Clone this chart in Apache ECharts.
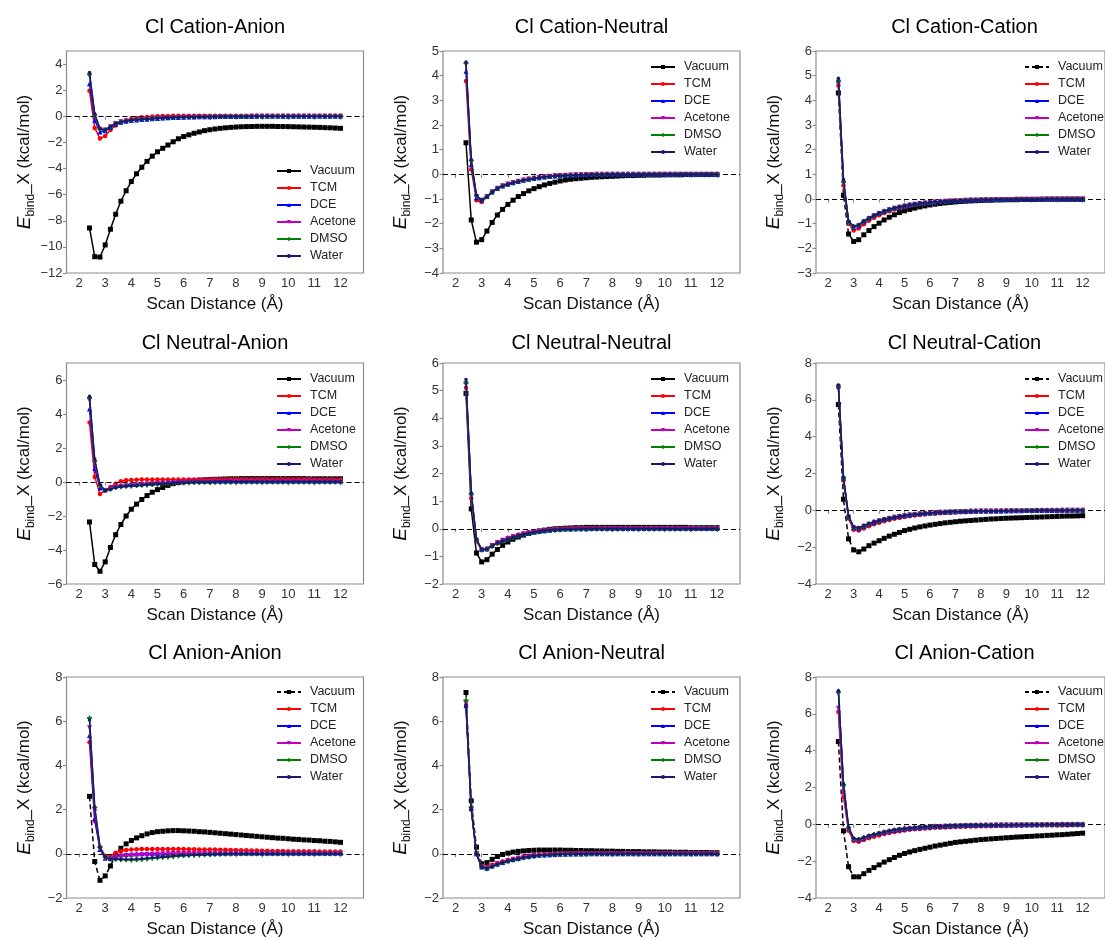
<!DOCTYPE html>
<html><head><meta charset="utf-8">
<script src="https://cdn.jsdelivr.net/npm/echarts@6/dist/echarts.min.js"></script>
<style>html,body{margin:0;padding:0;background:#fff}#c{width:1105px;height:941px}</style>
</head><body><div id="c"></div>
<script>
// ---------- data ----------
const xDist = [2.4,2.6,2.8,3.0,3.2,3.4,3.6,3.8,4.0,4.2,4.4,4.6,4.8,5.0,5.2,5.4,5.6,5.8,6.0,6.2,6.4,6.6,6.8,7.0,7.2,7.4,7.6,7.8,8.0,8.2,8.4,8.6,8.8,9.0,9.2,9.4,9.6,9.8,10.0,10.2,10.4,10.6,10.8,11.0,11.2,11.4,11.6,11.8,12.0];
const xTicks = [2,3,4,5,6,7,8,9,10,11,12];
const seriesNames = ['Vacuum','TCM','DCE','Acetone','DMSO','Water'];

// Cl Cation-Anion
const ca_vac = [-8.55,-10.75,-10.78,-9.85,-8.65,-7.5,-6.5,-5.7,-5.0, -4.4,-3.9,-3.45,-3.05,-2.72,-2.45,-2.2,-1.95,-1.72,-1.55, -1.42,-1.3,-1.2,-1.1,-1.03,-0.97,-0.92,-0.88,-0.85,-0.82, -0.8,-0.79,-0.78,-0.77,-0.77,-0.77,-0.77,-0.78,-0.78,-0.79, -0.8,-0.81,-0.82,-0.83,-0.84,-0.85,-0.87,-0.88,-0.9,-0.92];
const ca_tcm = [1.95,-0.9,-1.7,-1.5,-1.05,-0.7,-0.45,-0.3,-0.2, -0.13,-0.08,-0.05,-0.02,0,0.02,0.03,0.04,0.04,0.05, 0.05,0.05,0.05,0.05,0.05,0.05,0.05,0.05,0.05,0.05, 0.05,0.05,0.05,0.05,0.05,0.05,0.05,0.05,0.05,0.05, 0.05,0.05,0.05,0.05,0.05,0.05,0.05,0.05,0.04,0.04];
const ca_dce = [2.5,-0.3,-1.2,-1.1,-0.85,-0.6,-0.45,-0.38,-0.33, -0.29,-0.25,-0.22,-0.19,-0.16,-0.14,-0.12,-0.1,-0.09,-0.07, -0.06,-0.05,-0.04,-0.04,-0.03,-0.03,-0.02,-0.02,-0.02,-0.01, -0.01,-0.01,-0.01,0,0,0,0,0,0,0, 0,0,0,0,0,0,0,0,0,0];
const ca_ace = [3.1,0.0,-1.0,-1.05,-0.8,-0.55,-0.42,-0.36,-0.31, -0.27,-0.23,-0.2,-0.17,-0.15,-0.13,-0.11,-0.09,-0.08,-0.07, -0.06,-0.05,-0.04,-0.03,-0.03,-0.02,-0.02,-0.02,-0.01,-0.01, -0.01,-0.01,0,0,0,0,0,0,0,0, 0,0,0,0,0,0,0,0,0,0];
const ca_dmso = [3.2,0.1,-0.98,-1.05,-0.8,-0.55,-0.42,-0.35,-0.3, -0.26,-0.22,-0.19,-0.17,-0.15,-0.13,-0.11,-0.09,-0.08,-0.07, -0.06,-0.05,-0.04,-0.03,-0.03,-0.02,-0.02,-0.02,-0.01,-0.01, -0.01,-0.01,0,0,0,0,0,0,0,0, 0,0,0,0,0,0,0,0,0,0];
const ca_wat = [3.35,0.2,-0.95,-1.05,-0.8,-0.56,-0.43,-0.36,-0.31, -0.27,-0.23,-0.2,-0.17,-0.15,-0.13,-0.11,-0.09,-0.08,-0.07, -0.06,-0.05,-0.04,-0.03,-0.03,-0.02,-0.02,-0.02,-0.01,-0.01, -0.01,-0.01,0,0,0,0,0,0,0,0, 0,0,0,0,0,0,0,0,0,0];

// Cl Cation-Neutral
const cn_vac = [1.28,-1.85,-2.75,-2.65,-2.3,-1.95,-1.65,-1.42,-1.22, -1.05,-0.9,-0.78,-0.67,-0.58,-0.5,-0.43,-0.37,-0.32,-0.27, -0.23,-0.2,-0.18,-0.16,-0.14,-0.12,-0.11,-0.1,-0.09,-0.08, -0.07,-0.06,-0.05,-0.05,-0.04,-0.04,-0.03,-0.03,-0.03,-0.02, -0.02,-0.02,-0.02,-0.01,-0.01,-0.01,-0.01,-0.01,-0.01,-0.01];
const cn_tcm = [3.78,0.2,-1.05,-1.12,-0.92,-0.72,-0.58,-0.47,-0.4, -0.33,-0.28,-0.23,-0.19,-0.16,-0.13,-0.1,-0.08,-0.06,-0.05, -0.04,-0.03,-0.02,-0.01,-0.01,0,0,0,0,0, 0,0,0,0,0,0,0,0,0,0, 0,0,0,0,0,0,0,0,0,0];
const cn_dce = [4.18,0.4,-0.95,-1.05,-0.9,-0.72,-0.57,-0.47,-0.4, -0.34,-0.29,-0.24,-0.2,-0.17,-0.14,-0.11,-0.09,-0.07,-0.06, -0.05,-0.04,-0.03,-0.02,-0.02,-0.01,-0.01,-0.01,0,0, 0,0,0,0,0,0,0,0,0,0, 0,0,0,0,0,0,0,0,0,0];
const cn_ace = [4.45,0.5,-0.9,-1.05,-0.9,-0.71,-0.56,-0.46,-0.39, -0.33,-0.28,-0.23,-0.19,-0.16,-0.13,-0.1,-0.08,-0.06,-0.05, -0.04,-0.03,-0.02,-0.02,-0.01,-0.01,0,0,0,0, 0,0,0,0,0,0,0,0,0,0, 0,0,0,0,0,0,0,0,0,0];
const cn_dmso = [4.5,0.55,-0.88,-1.05,-0.9,-0.72,-0.57,-0.47,-0.4, -0.34,-0.29,-0.24,-0.2,-0.17,-0.14,-0.11,-0.09,-0.07,-0.06, -0.05,-0.04,-0.03,-0.02,-0.02,-0.01,-0.01,-0.01,0,0, 0,0,0,0,0,0,0,0,0,0, 0,0,0,0,0,0,0,0,0,0];
const cn_wat = [4.55,0.6,-0.85,-1.05,-0.9,-0.72,-0.57,-0.47,-0.4, -0.34,-0.29,-0.24,-0.2,-0.17,-0.14,-0.11,-0.09,-0.07,-0.06, -0.05,-0.04,-0.03,-0.02,-0.02,-0.01,-0.01,-0.01,0,0, 0,0,0,0,0,0,0,0,0,0, 0,0,0,0,0,0,0,0,0,0];

// Cl Cation-Cation
const cc_vac = [4.3,0.15,-1.42,-1.72,-1.65,-1.45,-1.28,-1.12,-0.98, -0.85,-0.74,-0.64,-0.55,-0.48,-0.42,-0.37,-0.32,-0.28,-0.24, -0.21,-0.18,-0.16,-0.14,-0.12,-0.1,-0.09,-0.08,-0.07,-0.06, -0.05,-0.05,-0.04,-0.04,-0.03,-0.03,-0.03,-0.02,-0.02,-0.02, -0.02,-0.01,-0.01,-0.01,-0.01,-0.01,-0.01,-0.01,-0.01,-0.01];
const cc_tcm = [4.6,0.55,-1.0,-1.28,-1.2,-1.02,-0.88,-0.76,-0.66, -0.57,-0.5,-0.43,-0.37,-0.32,-0.28,-0.24,-0.21,-0.18,-0.16, -0.14,-0.12,-0.1,-0.09,-0.08,-0.07,-0.06,-0.05,-0.05,-0.04, -0.04,-0.03,-0.03,-0.03,-0.02,-0.02,-0.02,-0.02,-0.01,-0.01, -0.01,-0.01,-0.01,-0.01,-0.01,0,0,0,0,0];
const cc_dce = [4.85,0.75,-0.92,-1.15,-1.08,-0.92,-0.79,-0.68,-0.59, -0.51,-0.44,-0.38,-0.33,-0.28,-0.24,-0.21,-0.18,-0.16,-0.14, -0.12,-0.1,-0.09,-0.08,-0.07,-0.06,-0.05,-0.04,-0.04,-0.03, -0.03,-0.03,-0.02,-0.02,-0.02,-0.02,-0.01,-0.01,-0.01,-0.01, -0.01,-0.01,0,0,0,0,0,0,0,0];
const cc_ace = [4.65,0.65,-0.95,-1.15,-1.08,-0.92,-0.79,-0.68,-0.59, -0.51,-0.44,-0.38,-0.33,-0.28,-0.24,-0.21,-0.18,-0.16,-0.14, -0.12,-0.1,-0.09,-0.08,-0.07,-0.06,-0.05,-0.04,-0.04,-0.03, -0.03,-0.03,-0.02,-0.02,-0.02,-0.02,-0.01,-0.01,-0.01,-0.01, -0.01,-0.01,0,0,0,0,0,0,0,0];
const cc_dmso = [4.8,0.7,-0.93,-1.12,-1.06,-0.9,-0.78,-0.67,-0.58, -0.5,-0.43,-0.37,-0.32,-0.28,-0.24,-0.21,-0.18,-0.16,-0.14, -0.12,-0.1,-0.09,-0.08,-0.07,-0.06,-0.05,-0.04,-0.04,-0.03, -0.03,-0.03,-0.02,-0.02,-0.02,-0.02,-0.01,-0.01,-0.01,-0.01, -0.01,-0.01,0,0,0,0,0,0,0,0];
const cc_wat = [4.9,0.8,-0.9,-1.1,-1.05,-0.9,-0.77,-0.66,-0.57, -0.49,-0.42,-0.36,-0.31,-0.27,-0.23,-0.2,-0.17,-0.15,-0.13, -0.11,-0.1,-0.09,-0.08,-0.07,-0.06,-0.05,-0.04,-0.04,-0.03, -0.03,-0.03,-0.02,-0.02,-0.02,-0.02,-0.01,-0.01,-0.01,-0.01, -0.01,-0.01,0,0,0,0,0,0,0,0];

// Cl Neutral-Anion
const na_vac = [-2.35,-4.85,-5.25,-4.7,-3.85,-3.1,-2.5,-2.0,-1.6, -1.3,-1.03,-0.8,-0.6,-0.45,-0.32,-0.2,-0.1,-0.03,0.02, 0.06,0.09,0.11,0.13,0.15,0.16,0.17,0.18,0.19,0.19, 0.2,0.2,0.2,0.2,0.2,0.2,0.2,0.2,0.2,0.2, 0.2,0.2,0.2,0.19,0.19,0.19,0.19,0.19,0.19,0.19];
const na_tcm = [3.5,0.3,-0.7,-0.5,-0.3,-0.1,0.05,0.1,0.12, 0.13,0.14,0.15,0.15,0.15,0.15,0.15,0.15,0.15,0.15, 0.15,0.15,0.15,0.15,0.15,0.16,0.16,0.16,0.16,0.16, 0.16,0.16,0.16,0.16,0.16,0.16,0.16,0.16,0.16,0.16, 0.16,0.16,0.16,0.16,0.15,0.15,0.15,0.15,0.15,0.15];
const na_dce = [4.3,0.8,-0.35,-0.45,-0.35,-0.25,-0.2,-0.17,-0.15, -0.13,-0.11,-0.09,-0.07,-0.05,-0.03,-0.02,0,0.01,0.02, 0.03,0.04,0.04,0.05,0.05,0.05,0.05,0.05,0.05,0.05, 0.05,0.05,0.05,0.05,0.05,0.05,0.05,0.05,0.05,0.05, 0.05,0.05,0.05,0.05,0.05,0.05,0.05,0.05,0.05,0.05];
const na_ace = [4.8,1.1,-0.25,-0.5,-0.4,-0.3,-0.25,-0.22,-0.2, -0.18,-0.16,-0.13,-0.11,-0.09,-0.07,-0.05,-0.03,-0.02,-0.01, 0,0.01,0.02,0.02,0.03,0.03,0.03,0.04,0.04,0.04, 0.04,0.04,0.04,0.04,0.04,0.04,0.04,0.04,0.04,0.04, 0.04,0.04,0.04,0.04,0.04,0.04,0.04,0.04,0.04,0.04];
const na_dmso = [4.95,1.25,-0.2,-0.5,-0.42,-0.33,-0.28,-0.25,-0.23, -0.21,-0.19,-0.17,-0.15,-0.13,-0.11,-0.09,-0.07,-0.06,-0.05, -0.04,-0.03,-0.03,-0.02,-0.02,-0.01,-0.01,-0.01,-0.01,0, 0,0,0,0,0,0,0,0,0,0, 0,0,0,0,0,0,0,0,0,0];
const na_wat = [5.05,1.35,-0.15,-0.5,-0.42,-0.33,-0.28,-0.25,-0.23, -0.21,-0.19,-0.16,-0.14,-0.12,-0.1,-0.08,-0.06,-0.05,-0.04, -0.03,-0.02,-0.01,-0.01,0,0,0.01,0.01,0.01,0.01, 0.01,0.01,0.01,0.01,0.01,0.01,0.01,0.01,0.01,0.01, 0.01,0.01,0.01,0.01,0.01,0.01,0.01,0.01,0.01,0.01];

// Cl Neutral-Neutral
const nn_vac = [4.9,0.72,-0.88,-1.2,-1.12,-0.92,-0.75,-0.6,-0.48, -0.38,-0.3,-0.23,-0.17,-0.12,-0.08,-0.05,-0.02,0,0.01, 0.02,0.03,0.04,0.04,0.05,0.05,0.05,0.05,0.05,0.05, 0.05,0.05,0.05,0.05,0.05,0.05,0.05,0.05,0.05,0.05, 0.05,0.05,0.05,0.05,0.04,0.04,0.04,0.04,0.04,0.04];
const nn_tcm = [5.1,1.1,-0.45,-0.78,-0.75,-0.62,-0.5,-0.41,-0.33, -0.27,-0.21,-0.17,-0.13,-0.1,-0.07,-0.05,-0.03,-0.01,0, 0.01,0.01,0.02,0.02,0.02,0.03,0.03,0.03,0.03,0.03, 0.03,0.03,0.03,0.03,0.03,0.03,0.03,0.03,0.03,0.03, 0.03,0.03,0.03,0.03,0.03,0.02,0.02,0.02,0.02,0.02];
const nn_dce = [5.35,1.3,-0.4,-0.75,-0.72,-0.6,-0.5,-0.42,-0.35, -0.29,-0.24,-0.19,-0.15,-0.12,-0.09,-0.07,-0.05,-0.03,-0.02, -0.01,-0.01,0,0,0,0.01,0.01,0.01,0.01,0.01, 0.01,0.01,0.01,0.01,0.01,0.01,0.01,0.01,0.01,0.01, 0.01,0.01,0.01,0.01,0.01,0.01,0.01,0.01,0.01,0.01];
const nn_ace = [5.2,1.2,-0.42,-0.76,-0.73,-0.61,-0.5,-0.42,-0.35, -0.29,-0.24,-0.19,-0.15,-0.12,-0.09,-0.07,-0.05,-0.04,-0.03, -0.02,-0.01,-0.01,0,0,0,0,0,0.01,0.01, 0.01,0.01,0.01,0.01,0.01,0.01,0.01,0.01,0.01,0.01, 0.01,0.01,0.01,0.01,0.01,0.01,0.01,0.01,0.01,0.01];
const nn_dmso = [5.3,1.25,-0.4,-0.75,-0.74,-0.63,-0.53,-0.45,-0.38, -0.32,-0.26,-0.21,-0.17,-0.14,-0.11,-0.08,-0.06,-0.05,-0.04, -0.03,-0.03,-0.02,-0.02,-0.02,-0.01,-0.01,-0.01,-0.01,-0.01, -0.01,-0.01,-0.01,-0.01,-0.01,-0.01,-0.01,-0.01,-0.01,-0.01, -0.01,-0.01,-0.01,-0.01,-0.01,0,0,0,0,0];
const nn_wat = [5.4,1.3,-0.38,-0.74,-0.73,-0.62,-0.52,-0.44,-0.37, -0.31,-0.25,-0.2,-0.16,-0.13,-0.1,-0.07,-0.05,-0.04,-0.03, -0.02,-0.02,-0.01,-0.01,-0.01,0,0,0,0,0, 0,0,0,0,0,0,0,0,0,0, 0,0,0,0,0,0,0,0,0,0];

// Cl Neutral-Cation
const nc_vac = [5.75,0.6,-1.55,-2.15,-2.25,-2.1,-1.92,-1.78,-1.65, -1.52,-1.4,-1.3,-1.2,-1.1,-1.03,-0.96,-0.9,-0.85,-0.8, -0.76,-0.72,-0.68,-0.65,-0.62,-0.59,-0.57,-0.55,-0.53,-0.51, -0.49,-0.47,-0.46,-0.44,-0.43,-0.42,-0.41,-0.4,-0.39,-0.38, -0.37,-0.36,-0.35,-0.34,-0.33,-0.32,-0.31,-0.31,-0.3,-0.29];
const nc_tcm = [6.7,1.6,-0.45,-1.05,-1.1,-0.98,-0.86,-0.76,-0.67, -0.59,-0.52,-0.46,-0.41,-0.36,-0.32,-0.28,-0.25,-0.22,-0.2, -0.18,-0.16,-0.14,-0.13,-0.12,-0.11,-0.1,-0.09,-0.08,-0.07, -0.07,-0.06,-0.06,-0.05,-0.05,-0.05,-0.04,-0.04,-0.04,-0.04, -0.03,-0.03,-0.03,-0.03,-0.03,-0.03,-0.02,-0.02,-0.02,-0.02];
const nc_dce = [6.75,1.75,-0.35,-0.95,-1.0,-0.88,-0.76,-0.66,-0.58, -0.5,-0.44,-0.38,-0.33,-0.29,-0.25,-0.22,-0.19,-0.17,-0.15, -0.13,-0.11,-0.1,-0.09,-0.08,-0.07,-0.06,-0.05,-0.05,-0.04, -0.04,-0.03,-0.03,-0.03,-0.02,-0.02,-0.02,-0.02,-0.01,-0.01, -0.01,-0.01,-0.01,-0.01,-0.01,0,0,0,0,0];
const nc_ace = [6.7,1.7,-0.38,-0.95,-0.98,-0.87,-0.75,-0.65,-0.57, -0.5,-0.44,-0.38,-0.33,-0.29,-0.25,-0.22,-0.19,-0.17,-0.15, -0.13,-0.11,-0.1,-0.09,-0.08,-0.07,-0.06,-0.05,-0.05,-0.04, -0.04,-0.03,-0.03,-0.03,-0.02,-0.02,-0.02,-0.02,-0.01,-0.01, -0.01,-0.01,-0.01,-0.01,-0.01,0,0,0,0,0];
const nc_dmso = [6.75,1.75,-0.35,-0.93,-0.97,-0.85,-0.74,-0.64,-0.56, -0.49,-0.43,-0.37,-0.32,-0.28,-0.24,-0.21,-0.18,-0.16,-0.14, -0.12,-0.1,-0.09,-0.08,-0.07,-0.06,-0.05,-0.04,-0.04,-0.03, -0.03,-0.03,-0.02,-0.02,-0.02,-0.01,-0.01,-0.01,-0.01,-0.01, 0,0,0,0,0,0,0,0,0,0];
const nc_wat = [6.8,1.8,-0.3,-0.9,-0.95,-0.84,-0.73,-0.63,-0.55, -0.49,-0.43,-0.37,-0.32,-0.28,-0.24,-0.21,-0.18,-0.16,-0.14, -0.12,-0.1,-0.09,-0.08,-0.07,-0.06,-0.05,-0.04,-0.04,-0.03, -0.03,-0.03,-0.02,-0.02,-0.02,-0.01,-0.01,-0.01,-0.01,-0.01, 0,0,0,0,0,0,0,0,0,0];

// Cl Anion-Anion
const aa_vac = [2.6,-0.35,-1.2,-1.0,-0.55,-0.05,0.25,0.45,0.6, 0.72,0.82,0.9,0.96,1.0,1.02,1.04,1.05,1.05,1.04, 1.03,1.02,1.0,0.99,0.97,0.95,0.93,0.91,0.89,0.87, 0.85,0.83,0.81,0.79,0.77,0.75,0.73,0.71,0.7,0.68, 0.66,0.65,0.63,0.62,0.6,0.59,0.57,0.56,0.54,0.52];
const aa_tcm = [5.05,1.5,0.3,-0.1,-0.1,0.05,0.12,0.17,0.2, 0.21,0.22,0.22,0.22,0.22,0.22,0.22,0.22,0.22,0.22, 0.21,0.21,0.2,0.2,0.19,0.19,0.18,0.18,0.17,0.17, 0.16,0.16,0.15,0.15,0.14,0.14,0.13,0.13,0.13,0.12, 0.12,0.12,0.11,0.11,0.11,0.1,0.1,0.1,0.1,0.1];
const aa_dce = [5.35,1.6,0.2,-0.2,-0.2,-0.1,-0.05,-0.03,-0.02, -0.01,0,0,0.01,0.01,0.01,0.02,0.02,0.02,0.02, 0.02,0.02,0.02,0.02,0.02,0.02,0.02,0.02,0.02,0.02, 0.02,0.02,0.02,0.02,0.02,0.02,0.02,0.02,0.02,0.02, 0.02,0.02,0.02,0.02,0.02,0.02,0.02,0.02,0.02,0.02];
const aa_ace = [5.7,1.9,0.25,-0.2,-0.22,-0.15,-0.1,-0.08,-0.06, -0.05,-0.04,-0.03,-0.02,-0.01,0,0,0.01,0.01,0.01, 0.01,0.01,0.01,0.01,0.01,0.01,0.01,0.01,0.01,0.01, 0.01,0.01,0.01,0.01,0.01,0.01,0.01,0.01,0.01,0.01, 0.01,0.01,0.01,0.01,0.01,0.01,0.01,0.01,0.01,0.01];
const aa_dmso = [6.15,2.1,0.3,-0.15,-0.25,-0.25,-0.26,-0.27,-0.28, -0.27,-0.25,-0.23,-0.2,-0.18,-0.16,-0.14,-0.12,-0.1,-0.08, -0.07,-0.06,-0.05,-0.04,-0.03,-0.02,-0.02,-0.01,-0.01,0, 0,0,0,0,0,0,0,0,0,0, 0,0,0,0,0,0,0,0,0,0];
const aa_wat = [6.05,2.1,0.3,-0.15,-0.25,-0.25,-0.25,-0.25,-0.25, -0.24,-0.22,-0.2,-0.18,-0.16,-0.14,-0.12,-0.1,-0.08,-0.07, -0.06,-0.05,-0.04,-0.03,-0.02,-0.02,-0.01,-0.01,0,0, 0,0,0,0,0,0,0,0,0,0, 0,0,0,0,0,0,0,0,0,0];

// Cl Anion-Neutral
const an_vac = [7.3,2.4,0.3,-0.45,-0.4,-0.25,-0.12,-0.03,0.03, 0.08,0.11,0.13,0.15,0.16,0.17,0.17,0.17,0.17,0.17, 0.16,0.16,0.15,0.15,0.14,0.14,0.13,0.13,0.12,0.12, 0.11,0.11,0.1,0.1,0.1,0.09,0.09,0.09,0.08,0.08, 0.08,0.07,0.07,0.07,0.06,0.06,0.06,0.06,0.05,0.05];
const an_tcm = [6.7,2.0,0.05,-0.55,-0.6,-0.5,-0.42,-0.35,-0.28, -0.23,-0.18,-0.13,-0.09,-0.06,-0.04,-0.02,-0.01,0,0.01, 0.01,0.01,0.02,0.02,0.02,0.02,0.02,0.02,0.02,0.02, 0.02,0.02,0.02,0.02,0.02,0.02,0.02,0.02,0.02,0.02, 0.02,0.02,0.02,0.02,0.02,0.02,0.02,0.02,0.02,0.02];
const an_dce = [6.7,2.05,0,-0.6,-0.65,-0.55,-0.46,-0.39,-0.32, -0.26,-0.21,-0.16,-0.12,-0.09,-0.07,-0.05,-0.04,-0.03,-0.02, -0.02,-0.01,-0.01,-0.01,0,0,0,0,0,0, 0,0,0,0,0,0,0,0,0,0, 0,0,0,0,0,0,0,0,0,0];
const an_ace = [6.8,2.05,0,-0.58,-0.64,-0.54,-0.45,-0.38,-0.31, -0.25,-0.2,-0.15,-0.11,-0.08,-0.06,-0.04,-0.03,-0.02,-0.01, -0.01,0,0,0,0,0,0,0,0,0, 0,0,0,0,0,0,0,0,0,0, 0,0,0,0,0,0,0,0,0,0];
const an_dmso = [6.95,2.1,0,-0.6,-0.68,-0.58,-0.49,-0.41,-0.34, -0.28,-0.23,-0.18,-0.14,-0.11,-0.08,-0.06,-0.05,-0.04,-0.03, -0.02,-0.02,-0.01,-0.01,-0.01,0,0,0,0,0, 0,0,0,0,0,0,0,0,0,0, 0,0,0,0,0,0,0,0,0,0];
const an_wat = [6.75,2.05,-0.02,-0.6,-0.67,-0.57,-0.48,-0.4,-0.33, -0.27,-0.22,-0.17,-0.13,-0.1,-0.08,-0.06,-0.04,-0.03,-0.02, -0.02,-0.01,-0.01,-0.01,0,0,0,0,0,0, 0,0,0,0,0,0,0,0,0,0, 0,0,0,0,0,0,0,0,0,0];

// Cl Anion-Cation
const ac_vac = [4.5,-0.35,-2.3,-2.85,-2.85,-2.68,-2.5,-2.35,-2.2, -2.05,-1.92,-1.8,-1.68,-1.58,-1.5,-1.43,-1.36,-1.3,-1.24, -1.18,-1.13,-1.08,-1.03,-0.98,-0.95,-0.92,-0.89,-0.86,-0.83, -0.81,-0.79,-0.77,-0.75,-0.73,-0.71,-0.69,-0.68,-0.66,-0.65, -0.63,-0.62,-0.6,-0.59,-0.57,-0.56,-0.54,-0.52,-0.5,-0.48];
const ac_tcm = [6.1,1.5,-0.35,-0.9,-0.95,-0.85,-0.75,-0.67,-0.6, -0.53,-0.47,-0.42,-0.37,-0.33,-0.3,-0.27,-0.25,-0.23,-0.21, -0.19,-0.18,-0.17,-0.16,-0.15,-0.14,-0.13,-0.12,-0.12,-0.11, -0.1,-0.1,-0.09,-0.09,-0.09,-0.08,-0.08,-0.08,-0.07,-0.07, -0.07,-0.07,-0.06,-0.06,-0.06,-0.06,-0.06,-0.05,-0.05,-0.05];
const ac_dce = [7.25,2.2,-0.2,-0.8,-0.85,-0.75,-0.65,-0.57,-0.5, -0.44,-0.38,-0.33,-0.29,-0.26,-0.23,-0.2,-0.18,-0.16,-0.14, -0.12,-0.11,-0.1,-0.09,-0.08,-0.07,-0.06,-0.06,-0.05,-0.05, -0.04,-0.04,-0.03,-0.03,-0.03,-0.03,-0.02,-0.02,-0.02,-0.02, -0.02,-0.01,-0.01,-0.01,-0.01,-0.01,-0.01,-0.01,-0.01,-0.01];
const ac_ace = [6.3,1.7,-0.3,-0.85,-0.88,-0.78,-0.68,-0.6,-0.52, -0.46,-0.4,-0.35,-0.31,-0.27,-0.24,-0.21,-0.19,-0.17,-0.15, -0.13,-0.12,-0.11,-0.1,-0.09,-0.08,-0.07,-0.07,-0.06,-0.06, -0.05,-0.05,-0.04,-0.04,-0.04,-0.03,-0.03,-0.03,-0.03,-0.02, -0.02,-0.02,-0.02,-0.02,-0.02,-0.01,-0.01,-0.01,-0.01,-0.01];
const ac_dmso = [7.2,2.15,-0.18,-0.78,-0.82,-0.72,-0.63,-0.55,-0.48, -0.42,-0.36,-0.31,-0.27,-0.24,-0.21,-0.18,-0.16,-0.14,-0.12, -0.11,-0.1,-0.09,-0.08,-0.07,-0.06,-0.05,-0.05,-0.04,-0.04, -0.03,-0.03,-0.03,-0.02,-0.02,-0.02,-0.02,-0.01,-0.01,-0.01, -0.01,-0.01,-0.01,-0.01,-0.01,0,0,0,0,0];
const ac_wat = [7.25,2.2,-0.15,-0.75,-0.8,-0.71,-0.62,-0.54,-0.47, -0.41,-0.35,-0.3,-0.26,-0.23,-0.2,-0.17,-0.15,-0.13,-0.11, -0.1,-0.09,-0.08,-0.07,-0.06,-0.05,-0.05,-0.04,-0.04,-0.03, -0.03,-0.03,-0.02,-0.02,-0.02,-0.02,-0.01,-0.01,-0.01,-0.01, -0.01,-0.01,0,0,0,0,0,0,0,0];

// y tick labels per panel
const yTicks_ca = [-12,-10,-8,-6,-4,-2,0,2,4];
const yTicks_cn = [-4,-3,-2,-1,0,1,2,3,4,5];
const yTicks_cc = [-3,-2,-1,0,1,2,3,4,5,6];
const yTicks_na = [-6,-4,-2,0,2,4,6];
const yTicks_nn = [-2,-1,0,1,2,3,4,5,6];
const yTicks_nc = [-4,-2,0,2,4,6,8];
const yTicks_aa = [-2,0,2,4,6,8];
const yTicks_an = [-2,0,2,4,6,8];
const yTicks_ac = [-4,-2,0,2,4,6,8];

const panelTitles = ['Cl Cation-Anion','Cl Cation-Neutral','Cl Cation-Cation','Cl Neutral-Anion','Cl Neutral-Neutral','Cl Neutral-Cation','Cl Anion-Anion','Cl Anion-Neutral','Cl Anion-Cation'];
const panelValues = [
  [ca_vac,ca_tcm,ca_dce,ca_ace,ca_dmso,ca_wat],
  [cn_vac,cn_tcm,cn_dce,cn_ace,cn_dmso,cn_wat],
  [cc_vac,cc_tcm,cc_dce,cc_ace,cc_dmso,cc_wat],
  [na_vac,na_tcm,na_dce,na_ace,na_dmso,na_wat],
  [nn_vac,nn_tcm,nn_dce,nn_ace,nn_dmso,nn_wat],
  [nc_vac,nc_tcm,nc_dce,nc_ace,nc_dmso,nc_wat],
  [aa_vac,aa_tcm,aa_dce,aa_ace,aa_dmso,aa_wat],
  [an_vac,an_tcm,an_dce,an_ace,an_dmso,an_wat],
  [ac_vac,ac_tcm,ac_dce,ac_ace,ac_dmso,ac_wat]
];
const panelYTicks = [yTicks_ca,yTicks_cn,yTicks_cc,yTicks_na,yTicks_nn,yTicks_nc,yTicks_aa,yTicks_an,yTicks_ac];
const panelYLimits = [[-12,5],[-4,5],[-3,6],[-6,7],[-2,6],[-4,8],[-2,8],[-2,8],[-4,8]];
const xLimits = [1.52,12.88];
const vacuumDashed = [false,false,true,false,false,true,true,true,true];

// ---------- styling / layout ----------
const FONT = '"Liberation Sans", Arial, sans-serif';
const colors = ['#000000','#ff0000','#0000ff','#bf00bf','#008000','#191970'];
const plusPath = 'path://M-1,-3H1V-1H3V1H1V3H-1V1H-3V-1H-1Z';
const symbols = [
  {symbol:'rect', symbolSize:5, symbolRotate:0},
  {symbol:'circle', symbolSize:4.5, symbolRotate:0},
  {symbol:'triangle', symbolSize:5, symbolRotate:0},
  {symbol:'triangle', symbolSize:5, symbolRotate:180},
  {symbol:plusPath, symbolSize:5, symbolRotate:0},
  {symbol:'circle', symbolSize:3.5, symbolRotate:0}
];
const colLeft = [66.5, 443, 816];
const rowTop = [51, 363, 677];
const rowH = [222, 221, 221];
const plotW = 297;
const titleY = [27, 343, 653];
const legendPos = [[276,164],[650,60],[1024,60],[276,372],[650,372],[1024,372],[276,685],[650,685],[1024,685]];
const minus = v => String(v).replace('-', '\u2212');

const grids=[], xAxes=[], yAxes=[], series=[], legends=[], graphics=[];
for (let p=0; p<9; p++) {
  const r = Math.floor(p/3), c = p%3;
  grids.push({left:colLeft[c], top:rowTop[r], width:plotW, height:rowH[r], show:true,
    borderColor:'#8c8c8c', borderWidth:1.2, backgroundColor:'transparent', containLabel:false});
  xAxes.push({type:'value', gridIndex:p, min:xLimits[0], max:xLimits[1],
    name:'Scan Distance (Å)', nameLocation:'middle', nameGap:23,
    nameTextStyle:{fontFamily:FONT, fontSize:17, color:'#111'},
    axisLine:{show:false}, splitLine:{show:false},
    axisTick:{show:true, inside:false, length:3.5, lineStyle:{color:'#8c8c8c', width:1.2}, customValues:xTicks},
    axisLabel:{fontFamily:FONT, fontSize:13, color:'#333', margin:4, customValues:xTicks}});
  yAxes.push({type:'value', gridIndex:p, min:panelYLimits[p][0], max:panelYLimits[p][1],
    name:'{e|E}{s|bind}{n|_X (kcal/mol)}', nameLocation:'middle', nameGap:30, nameRotate:90,
    nameTextStyle:{fontFamily:FONT, color:'#111', rich:{
      e:{fontFamily:FONT, fontSize:19, fontStyle:'italic', color:'#111', lineHeight:24},
      s:{fontFamily:FONT, fontSize:12, color:'#111', verticalAlign:'bottom', lineHeight:14},
      n:{fontFamily:FONT, fontSize:17, color:'#111', lineHeight:24}}},
    axisLine:{show:false}, splitLine:{show:false},
    axisTick:{show:true, inside:false, length:3.5, lineStyle:{color:'#8c8c8c', width:1.2}, customValues:panelYTicks[p]},
    axisLabel:{fontFamily:FONT, fontSize:13, color:'#333', margin:4, customValues:panelYTicks[p], formatter:minus}});
  panelValues[p].forEach((ys, k) => {
    const s = {type:'line', name:seriesNames[k], xAxisIndex:p, yAxisIndex:p,
      data: ys.map((y,i)=>[xDist[i], y]),
      symbol:symbols[k].symbol, symbolSize:symbols[k].symbolSize, symbolRotate:symbols[k].symbolRotate,
      showAllSymbol:true, clip:false,
      lineStyle:{color:colors[k], width:1.5, type:(k===0 && vacuumDashed[p]) ? [5,3] : 'solid'},
      itemStyle:{color:colors[k], borderWidth:0},
      emphasis:{disabled:true}, z:2+k};
    if (k===0) {
      s.markLine = {silent:true, symbol:['none','none'], label:{show:false},
        lineStyle:{color:'#000', type:[5,3], width:1.2}, data:[{yAxis:0}], animation:false};
    }
    series.push(s);
  });
  legends.push({orient:'vertical', left:legendPos[p][0], top:legendPos[p][1],
    itemWidth:24, itemHeight:5, itemGap:3, padding:0,
    textStyle:{fontFamily:FONT, fontSize:12.5, lineHeight:14, color:'#222', padding:[0,0,0,4]},
    selectedMode:false,
    data: seriesNames.map((n,k)=> (k===0 && vacuumDashed[p]) ? {name:n, lineStyle:{type:[4,3]}} : {name:n})});
  graphics.push({type:'text', x:colLeft[c]+plotW/2, y:titleY[r],
    style:{text:panelTitles[p], textAlign:'center', textVerticalAlign:'middle',
      font:'20px ' + FONT, fill:'#000'}});
}

const chart = echarts.init(document.getElementById('c'), null, {renderer:'canvas'});
chart.setOption({animation:false, backgroundColor:'#fff',
  grid:grids, xAxis:xAxes, yAxis:yAxes, series:series, legend:legends, graphic:graphics});
</script>
</body></html>
